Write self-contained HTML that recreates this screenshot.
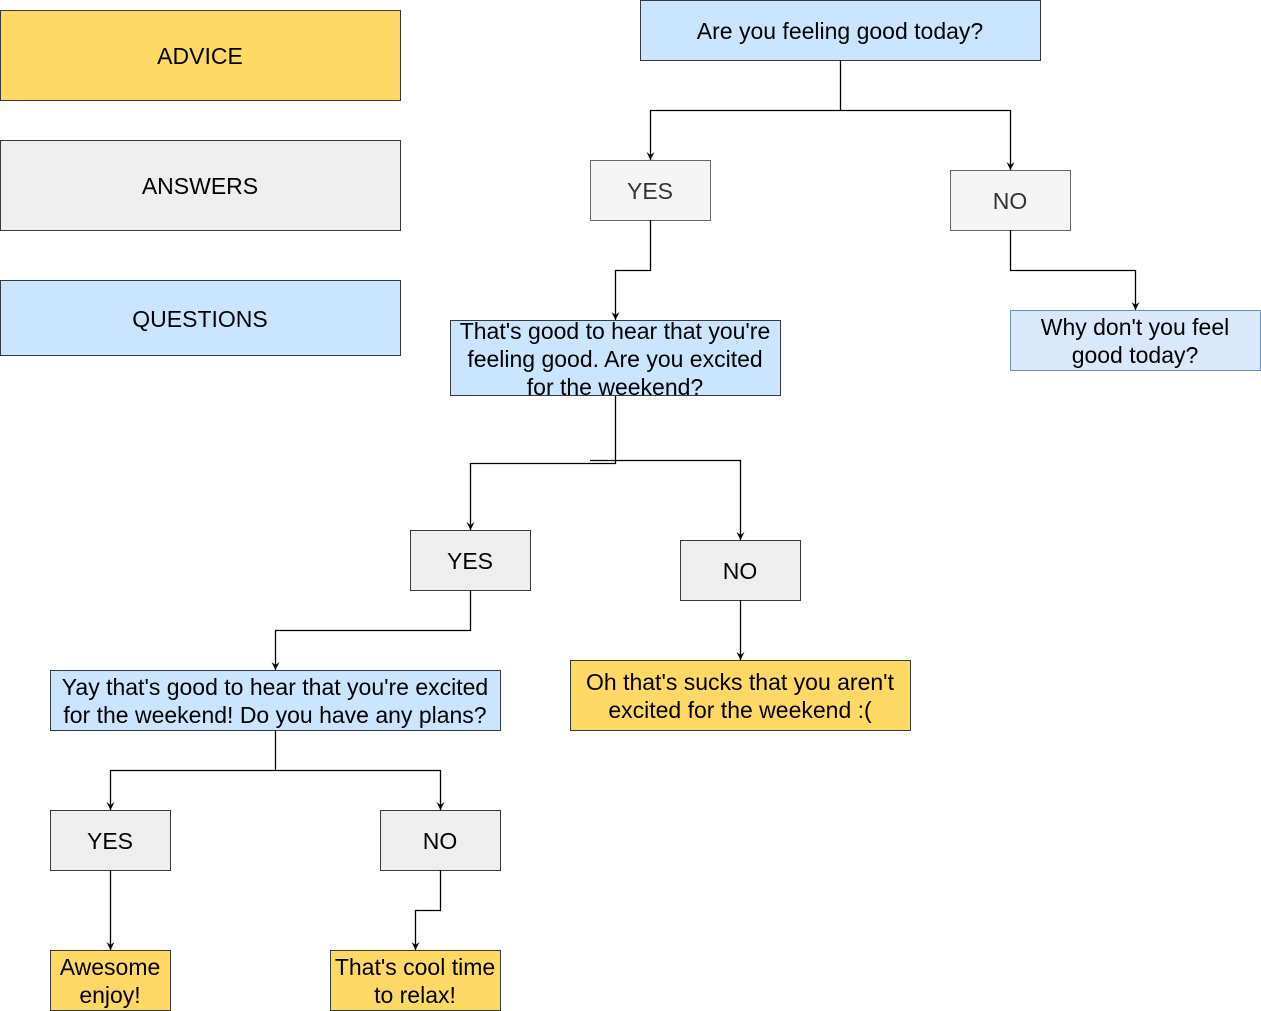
<!DOCTYPE html>
<html><head><meta charset="utf-8"><style>
html,body{margin:0;padding:0;background:#fff;width:1261px;height:1011px;overflow:hidden}
svg{display:block}
text{font-family:"Liberation Sans",Arial,sans-serif;font-size:23px;text-anchor:middle;fill:#000}
.c{fill:none;stroke:#000;stroke-width:1.3}
</style></head><body>
<svg width="1261" height="1011" viewBox="0 0 1261 1011">
<defs><marker id="a" markerWidth="10" markerHeight="10" refX="9" refY="5" orient="auto" markerUnits="userSpaceOnUse" viewBox="0 0 10 10"><path d="M1,1 L9,5 L1,9 L4,5 Z" fill="#000"/></marker></defs>
<g stroke-width="1">
<rect x="0.5" y="10.5" width="400" height="90" fill="#ffd966" stroke="#36393d"/>
<rect x="0.5" y="140.5" width="400" height="90" fill="#eeeeee" stroke="#36393d"/>
<rect x="0.5" y="280.5" width="400" height="75" fill="#cce5ff" stroke="#36393d"/>
<rect x="640.5" y="0.5" width="400" height="60" fill="#cce5ff" stroke="#36393d"/>
<rect x="590.5" y="160.5" width="120" height="60" fill="#f5f5f5" stroke="#666"/>
<rect x="950.5" y="170.5" width="120" height="60" fill="#f5f5f5" stroke="#666"/>
<rect x="450.5" y="320.5" width="330" height="75" fill="#cce5ff" stroke="#36393d"/>
<rect x="1010.5" y="310.5" width="250" height="60" fill="#dae8fc" stroke="#6c8ebf"/>
<rect x="410.5" y="530.5" width="120" height="60" fill="#eeeeee" stroke="#36393d"/>
<rect x="680.5" y="540.5" width="120" height="60" fill="#eeeeee" stroke="#36393d"/>
<rect x="570.5" y="660.5" width="340" height="70" fill="#ffd966" stroke="#36393d"/>
<rect x="50.5" y="670.5" width="450" height="60" fill="#cce5ff" stroke="#36393d"/>
<rect x="50.5" y="810.5" width="120" height="60" fill="#eeeeee" stroke="#36393d"/>
<rect x="380.5" y="810.5" width="120" height="60" fill="#eeeeee" stroke="#36393d"/>
<rect x="50.5" y="950.5" width="120" height="60" fill="#ffd966" stroke="#36393d"/>
<rect x="330.5" y="950.5" width="170" height="60" fill="#ffd966" stroke="#36393d"/>
</g>
<g class="c">
<path class="c" d="M840.5,60 V110.5 H650.5 V160" marker-end="url(#a)"/>
<path class="c" d="M840.5,110.5 H1010.5 V170" marker-end="url(#a)"/>
<path class="c" d="M650.5,220 V270.5 H615.5 V320" marker-end="url(#a)"/>
<path class="c" d="M1010.5,230 V270.5 H1135.5 V310" marker-end="url(#a)"/>
<path class="c" d="M615.5,396 V463.5 H470.5 V530" marker-end="url(#a)"/>
<path class="c" d="M590,460.5 H740.5 V540" marker-end="url(#a)"/>
<path class="c" d="M470.5,590 V630.5 H275.5 V670" marker-end="url(#a)"/>
<path class="c" d="M740.5,600 V660" marker-end="url(#a)"/>
<path class="c" d="M275.5,730 V770.5 H110.5 V810" marker-end="url(#a)"/>
<path class="c" d="M275.5,770.5 H440.5 V810" marker-end="url(#a)"/>
<path class="c" d="M110.5,870 V950" marker-end="url(#a)"/>
<path class="c" d="M440.5,870 V910.5 H415.5 V950" marker-end="url(#a)"/>
</g>
<text x="200" y="64">ADVICE</text>
<text x="200" y="194">ANSWERS</text>
<text x="200" y="327">QUESTIONS</text>
<text x="840" y="39">Are you feeling good today?</text>
<text x="650" y="199" style="fill:#333">YES</text>
<text x="1010" y="209" style="fill:#333">NO</text>
<text x="615" y="339">That's good to hear that you're</text>
<text x="615" y="367">feeling good. Are you excited</text>
<text x="615" y="395">for the weekend?</text>
<text x="1135" y="335">Why don't you feel</text>
<text x="1135" y="363">good today?</text>
<text x="470" y="569">YES</text>
<text x="740" y="579">NO</text>
<text x="740" y="690">Oh that's sucks that you aren't</text>
<text x="740" y="718">excited for the weekend :(</text>
<text x="275" y="695">Yay that's good to hear that you're excited</text>
<text x="275" y="723">for the weekend! Do you have any plans?</text>
<text x="110" y="849">YES</text>
<text x="440" y="849">NO</text>
<text x="110" y="975">Awesome</text>
<text x="110" y="1003">enjoy!</text>
<text x="415" y="975">That's cool time</text>
<text x="415" y="1003">to relax!</text>
</svg>
</body></html>
